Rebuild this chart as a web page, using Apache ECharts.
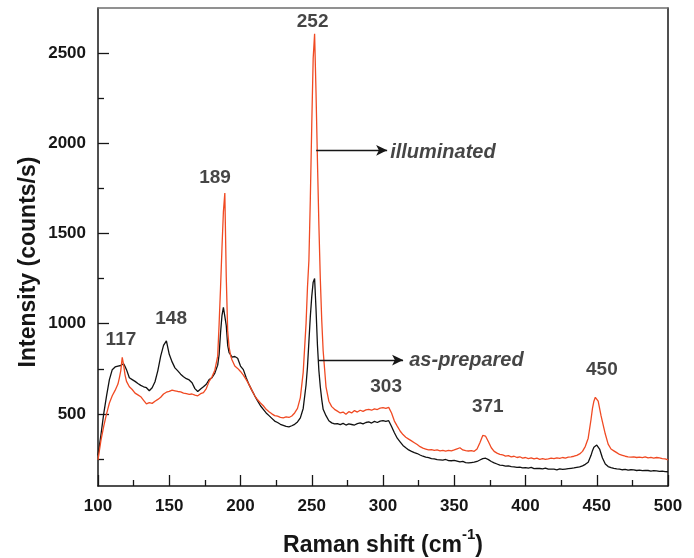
<!DOCTYPE html>
<html>
<head>
<meta charset="utf-8">
<script src="https://cdn.jsdelivr.net/npm/echarts@6/dist/echarts.min.js"></script>
<style>
  html, body { margin: 0; padding: 0; background: #ffffff; }
  #chart { width: 694px; height: 558px; }
</style>
</head>
<body>
<div id="chart"></div>
<script>
// Raman spectra: [Raman shift (cm-1), intensity (counts/s)]
const asPrepared = [
  [100,270],[102,380],[104,500],[106,600],[108,690],[110,745],[112,760],
  [114,765],[115,766],[116,768],[117,775],[118,778],[119,762],[120,745],
  [122,700],[124,690],[126,680],[128,668],[130,658],[132,650],[134,645],[136,628],[138,645],[140,678],
  [142,740],[144,820],[146,880],[148,905],[150,830],[152,788],[154,755],[156,738],[158,720],[160,706],
  [162,695],[164,688],[166,672],[168,640],[170,624],[172,638],[174,650],[176,664],[178,690],[180,700],
  [182,726],[184,770],
  [185,830],[186,950],[187,1045],[188,1090],[189,1093],[190,990],[191,880],[192,840],[193,828],[194,815],
  [196,818],[198,808],[200,765],[202,745],[204,700],[206,662],[208,630],[210,600],[212,572],[214,545],
  [216,525],[218,505],[220,490],[222,475],[224,460],[226,452],[228,442],[230,436],[232,430],[234,428],
  [236,434],[238,442],[240,455],[242,478],[244,530],[246,660],
  [247,760],[248,900],[249,1040],[250,1150],[251,1230],[252,1250],[253,1080],[254,880],[255,740],[256,650],
  [257,580],[258,525],
  [260,490],[262,462],[264,450],[266,444],[268,446],[270,440],[272,447],[274,438],[276,444],[278,441],
  [280,438],[282,446],[284,450],[286,444],[288,452],[290,455],[292,449],[294,458],[296,452],[298,460],
  [300,462],[302,458],[304,462],[306,430],[308,395],[310,365],[312,345],[314,325],[316,312],[318,300],
  [320,292],[322,285],[324,280],[326,272],[328,265],[330,260],[332,257],[334,252],[336,250],[338,246],
  [340,245],[342,243],[344,247],[346,241],[348,240],[350,242],[352,238],[354,234],[356,236],[358,230],
  [360,228],[362,230],[364,232],[366,236],[368,244],[370,252],[372,254],[374,246],[376,236],[378,228],
  [380,222],[382,216],[384,214],[386,210],[388,212],[390,207],[392,206],[394,203],[396,205],[398,200],
  [400,202],[402,199],[404,203],[406,196],[408,198],[410,197],[412,195],[414,199],[416,193],[418,194],
  [420,193],[422,190],[424,195],[426,192],[428,194],[430,196],[432,198],[434,200],[436,203],[438,206],
  [440,212],[442,220],[444,232],[446,270],
  [447,296],[448,315],[449,325],[450,327],[451,318],[452,305],[453,280],[454,255],
  [456,222],[458,208],[460,202],[462,198],[464,195],[466,193],[468,190],[470,192],[472,188],[474,190],
  [476,189],[478,186],[480,188],[482,185],[484,187],[486,186],[488,183],[490,185],[492,184],[494,181],
  [496,183],[498,180],[500,179]
];

const illuminated = [
  [100,245],[102,350],[104,430],[106,500],[108,560],[110,600],[112,630],
  [114,665],[115,700],[116,740],[117,813],[118,770],[119,715],[120,680],
  [122,650],[124,635],[126,615],[128,605],[130,595],[132,575],[134,555],[136,562],[138,558],[140,570],
  [142,580],[144,592],[146,610],[148,620],[150,625],[152,632],[154,628],[156,624],[158,622],[160,615],
  [162,612],[164,608],[166,610],[168,604],[170,600],[172,612],[174,618],[176,640],[178,680],[180,705],
  [182,742],[184,820],
  [185,1000],[186,1200],[187,1420],[188,1620],[189,1724],[190,1260],[191,960],[192,870],[193,825],[194,800],
  [196,765],[198,752],[200,735],[202,715],[204,690],[206,662],[208,630],[210,600],[212,578],[214,560],
  [216,545],[218,525],[220,512],[222,500],[224,490],[226,487],[228,480],[230,478],[232,483],[234,480],
  [236,488],[238,505],[240,530],[242,590],[244,730],[246,1000],
  [247,1200],[248,1350],[249,1690],[250,2100],[251,2470],[252,2607],[253,2280],[254,1900],[255,1550],[256,1250],
  [257,1020],[258,850],
  [260,650],[262,570],[264,540],[266,525],[268,515],[270,505],[272,510],[274,498],[276,512],[278,505],
  [280,518],[282,510],[284,520],[286,514],[288,522],[290,525],[292,520],[294,528],[296,524],[298,532],
  [300,534],[302,530],[304,536],[306,505],[308,460],[310,432],[312,405],[314,385],[316,370],[318,360],
  [320,350],[322,340],[324,330],[326,318],[328,310],[330,305],[332,300],[334,302],[336,297],[338,300],
  [340,295],[342,298],[344,293],[346,297],[348,295],[350,300],[352,306],[354,312],[356,300],[358,296],
  [360,294],[362,296],[364,292],[366,305],[368,340],[370,380],[372,376],[374,345],[376,312],[378,292],
  [380,282],[382,275],[384,272],[386,266],[388,268],[390,262],[392,265],[394,258],[396,262],[398,255],
  [400,258],[402,252],[404,256],[406,250],[408,254],[410,248],[412,252],[414,247],[416,250],[418,254],
  [420,252],[422,256],[424,253],[426,258],[428,255],[430,260],[432,262],[434,265],[436,270],[438,278],
  [440,292],[442,320],[444,365],[446,470],
  [447,530],[448,570],[449,592],[450,596],[451,570],[452,530],[453,490],[454,455],
  [456,388],[458,332],[460,305],[462,295],[464,285],[466,275],[468,270],[470,265],[472,262],[474,260],
  [476,262],[478,258],[480,260],[482,257],[484,262],[486,256],[488,259],[490,255],[492,258],[494,256],
  [496,252],[498,250],[500,245]
];

// peak labels: [shift, intensity, text]
const peakLabels = [
  [116.1, 908, '117'],
  [151.3, 1025, '148'],
  [182.1, 1811, '189'],
  [250.6, 2671, '252'],
  [302.2, 651, '303'],
  [373.5, 540, '371'],
  [453.6, 746, '450']
];

// arrow annotations: start, end, text anchor, text
const arrowNotes = [
  { from: [253.1, 1961], to: [302.9, 1961], at: [305.0, 1948], text: 'illuminated' },
  { from: [254.5, 798], to: [314.1, 798], at: [318.4, 798], text: 'as-prepared' }
];

const xMinorTicks = [125, 175, 225, 275, 325, 375, 425, 475];
const yMajorTicks = [500, 1000, 1500, 2000, 2500];
const yMinorTicks = [250, 750, 1250, 1750, 2250];

const FONT = "'Liberation Sans', Arial, Helvetica, sans-serif";
const INK = '#161616';
const X_MIN = 100, X_MAX = 500, Y_MIN = 100, Y_MAX = 2750;

const chart = echarts.init(document.getElementById('chart'), null, { renderer: 'canvas' });

const labelData = peakLabels.map(p => ({
  value: [p[0], p[1]],
  label: { formatter: p[2] }
})).concat(arrowNotes.map(a => ({
  value: a.at,
  label: {
    formatter: a.text,
    align: 'left',
    fontStyle: 'italic',
    fontSize: 20
  }
})));

const tickLine = { color: INK, width: 1.3 };

const option = {
  animation: false,
  backgroundColor: '#ffffff',
  grid: { left: 98, right: 26, top: 8, bottom: 72, outerBoundsMode: 'none', containLabel: false },
  xAxis: [
    {
      type: 'value',
      min: X_MIN, max: X_MAX, interval: 50,
      name: '{b|Raman shift (cm}{s|-1}{b|)}',
      nameLocation: 'middle',
      nameGap: 41,
      nameTextStyle: {
        rich: {
          b: { fontFamily: FONT, fontWeight: 'bold', fontSize: 23, color: INK, lineHeight: 30, verticalAlign: 'bottom' },
          s: { fontFamily: FONT, fontWeight: 'bold', fontSize: 15, color: INK, lineHeight: 30, verticalAlign: 'top' }
        }
      },
      axisLine: { onZero: false, lineStyle: { color: INK, width: 1.5 } },
      axisTick: { inside: true, length: 11, lineStyle: tickLine },
      axisLabel: { margin: 12, fontFamily: FONT, fontWeight: 'bold', fontSize: 17, color: INK },
      splitLine: { show: false }
    },
    {
      type: 'value', position: 'top',
      min: X_MIN, max: X_MAX,
      axisLine: { onZero: false, lineStyle: { color: '#6d6d6d', width: 1.5 } },
      axisTick: { show: false }, axisLabel: { show: false }, splitLine: { show: false }
    },
    {
      type: 'value', position: 'bottom',
      min: X_MIN, max: X_MAX,
      axisLine: { show: false, onZero: false },
      axisTick: { show: true, inside: true, length: 6, customValues: xMinorTicks, lineStyle: tickLine },
      axisLabel: { show: false }, splitLine: { show: false }
    }
  ],
  yAxis: [
    {
      type: 'value', position: 'left',
      min: Y_MIN, max: Y_MAX,
      axisLine: { show: true, onZero: false, lineStyle: { color: INK, width: 1.5 } },
      axisTick: { show: true, inside: true, length: 11, customValues: yMajorTicks, lineStyle: tickLine },
      axisLabel: {
        margin: 12, customValues: yMajorTicks,
        formatter: v => String(v),
        fontFamily: FONT, fontWeight: 'bold', fontSize: 17, color: INK
      },
      splitLine: { show: false }
    },
    {
      type: 'value', position: 'left',
      min: Y_MIN, max: Y_MAX,
      axisLine: { show: false, onZero: false },
      axisTick: { show: true, inside: true, length: 6, customValues: yMinorTicks, lineStyle: tickLine },
      axisLabel: { show: false },
      splitLine: { show: false }
    },
    {
      type: 'value', position: 'right',
      min: Y_MIN, max: Y_MAX,
      axisLine: { show: true, onZero: false, lineStyle: { color: INK, width: 1.5 } },
      axisTick: { show: false }, axisLabel: { show: false }, splitLine: { show: false }
    }
  ],
  graphic: [
    {
      type: 'text',
      x: 29, y: 262,
      rotation: Math.PI / 2,
      style: {
        text: 'Intensity (counts/s)',
        font: 'bold 23px ' + FONT,
        fill: INK,
        textAlign: 'center', textVerticalAlign: 'middle',
        align: 'center', verticalAlign: 'middle'
      }
    }
  ],
  series: [
    {
      name: 'as-prepared',
      type: 'line',
      data: asPrepared,
      showSymbol: false,
      symbol: 'none',
      lineStyle: { color: '#111111', width: 1.3 },
      z: 2
    },
    {
      name: 'illuminated',
      type: 'line',
      data: illuminated,
      showSymbol: false,
      symbol: 'none',
      lineStyle: { color: '#f04a23', width: 1.3 },
      z: 3
    },
    {
      name: 'labels',
      type: 'scatter',
      data: labelData,
      symbolSize: 0,
      silent: true,
      z: 5,
      label: {
        show: true,
        position: 'inside',
        fontFamily: FONT,
        fontWeight: 'bold',
        fontSize: 19,
        color: INK
      },
      markLine: {
        silent: true,
        symbol: ['none', 'arrow'],
        symbolSize: [8, 11],
        label: { show: false },
        lineStyle: { color: INK, width: 1.3, type: 'solid' },
        data: arrowNotes.map(a => [{ coord: a.from }, { coord: a.to }])
      }
    }
  ]
};

chart.setOption(option);
</script>
</body>
</html>
